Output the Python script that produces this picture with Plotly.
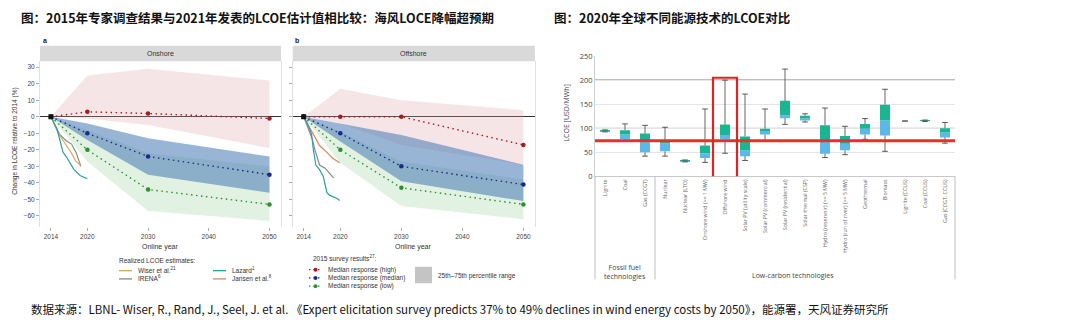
import plotly.graph_objects as go

W, H = 1080, 329
def px(x): return x / W
def py(y): return 1 - y / H

# ---------------- Data: 2015 expert survey vs realized LCOE ----------------
survey_years = [2014, 2020, 2030, 2050]
on_high = [0, 3, 2, -1]
on_med = [0, -10, -24, -35]
on_low = [0, -20, -44, -53]
on_high_up = [0, 25, 29, 22]
on_high_lo = [0, -1, -5, -19]
on_med_up = [0, -4, -13, -24]
on_med_lo = [0, -14, -35, -46]
on_low_up = [0, -8, -22, -30]
on_low_lo = [0, -27, -57, -63]

off_high = [0, 0, 0, -17]
off_med = [0, -10, -30, -41]
off_low = [0, -20, -43, -53]
off_high_up = [0, 17, 10, 4]
off_high_lo = [0, -4, -17, -29]
off_med_up = [0, -4, -11, -29]
off_med_lo = [0, -15, -39, -51]
off_low_up = [0, -9, -27, -38]
off_low_lo = [0, -28, -54, -62]

on_wiser_x = [2014, 2015.2, 2016.3, 2017.4, 2018.1, 2018.6, 2018.9]
on_wiser_y = [0, -10, -16, -22, -27, -28.5, -28]
on_irena_x = [2014, 2015.4, 2016.5, 2017.4, 2018.2, 2018.9]
on_irena_y = [0, -10.5, -14.5, -16.5, -22, -30]
on_lazard_x = [2014, 2015, 2015.5, 2016, 2016.6, 2017.1, 2017.8, 2018.8, 2020]
on_lazard_y = [0, -7.5, -14.5, -21.5, -24.5, -28, -32, -35.5, -37.5]

off_lazard_x = [2014, 2014.7, 2015.3, 2015.6, 2016, 2016.6, 2017.2, 2017.8, 2018.2, 2019.4, 2019.9]
off_lazard_y = [0, -4.7, -10.6, -20.3, -29.2, -32, -36, -45.8, -47.4, -49.3, -50.7]
off_irena_x = [2014, 2015.4, 2015.8, 2016.3, 2016.6, 2017.5, 2018, 2018.9]
off_irena_y = [0, -13.5, -19.4, -26.2, -29.2, -31.1, -33, -37]
off_jansen_x = [2014, 2015.5, 2016.6, 2018, 2018.8, 2019.9]
off_jansen_y = [0, -10.6, -17.4, -22.3, -25.2, -27.8]

year_ticks = [2014, 2020, 2030, 2040, 2050]
pct_ticks = [-60, -50, -40, -30, -20, -10, 0, 10, 20, 30]

# ---------------- Data: 2020 LCOE by technology ----------------
techs = ["Lignite", "Coal", "Gas (CCGT)", "Nuclear", "Nuclear (LTO)",
         "Onshore wind (>= 1 MW)", "Offshore wind", "Solar PV (utility scale)",
         "Solar PV (commercial)", "Solar PV (residential)", "Solar thermal (CSP)",
         "Hydro (reservoir) (>= 5 MW)", "Hydro (run of river) (>= 5 MW)",
         "Geothermal", "Biomass", "Lignite (CCUS)", "Coal (CCUS)", "Gas (CCGT, CCUS)"]
lcoe_low = [92.5, 74, 42, 42, 30, 29, 48, 33, 74, 108, 113, 39, 45, 77, 52, 115, 114, 69]
lcoe_q1 = [93, 77, 50, 52, 31, 38, 77, 42, 87, 121, 116, 47, 54, 87, 85, 115, 115, 81]
lcoe_med = [94.5, 87, 71, 69, 32, 48, 86, 54, 94, 127, 121, 74, 68, 99, 116, 115, 115.5, 91]
lcoe_q3 = [96, 96, 89, 75, 33, 64, 108, 83, 99, 157, 126, 106, 84, 109, 149, 115, 116, 100]
lcoe_high = [96.5, 109, 106, 102, 34, 140, 200, 171, 140, 223, 130, 142, 104, 120, 181, 115, 117, 112]
ref_lcoe = 74
lcoe_ticks = [0, 50, 100, 150, 200, 250]

LF = "Liberation Sans"
RF = "Open Sans"
CJK = "Noto Sans CJK SC"

RED, BLUE, GREEN = "#a01d22", "#1b2a8a", "#2f8f2f"
C_WISER, C_IRENA, C_LAZARD, C_JANSEN = "#d6a955", "#888888", "#2e9ea6", "#e0845a"

fig = go.Figure()

def band(xa, ya, up, lo, color):
    fig.add_trace(go.Scatter(x=survey_years + survey_years[::-1], y=up + lo[::-1],
                             fill="toself", fillcolor=color, line=dict(width=0),
                             mode="lines", hoverinfo="skip", xaxis=xa, yaxis=ya))

def series(xa, ya, vals, color):
    fig.add_trace(go.Scatter(x=survey_years, y=vals, mode="lines+markers",
                             line=dict(color=color, width=1.4, dash="1.5px,3.5px"),
                             marker=dict(color=color, size=4.5), xaxis=xa, yaxis=ya))

def realized(xa, ya, xs, ys, color):
    fig.add_trace(go.Scatter(x=xs, y=ys, mode="lines", line=dict(color=color, width=1.2),
                             xaxis=xa, yaxis=ya))

PINK_F = "rgba(222,160,170,0.28)"
GREEN_F = "rgba(150,210,150,0.28)"
BLUE_F = "rgba(70,120,180,0.55)"

for xa, ya, d in [("x", "y", dict(hu=on_high_up, hl=on_high_lo, mu=on_med_up, ml=on_med_lo,
                                   lu=on_low_up, ll=on_low_lo, h=on_high, m=on_med, l=on_low)),
                  ("x2", "y2", dict(hu=off_high_up, hl=off_high_lo, mu=off_med_up, ml=off_med_lo,
                                     lu=off_low_up, ll=off_low_lo, h=off_high, m=off_med, l=off_low))]:
    band(xa, ya, d["hu"], d["hl"], PINK_F)
    band(xa, ya, d["lu"], d["ll"], GREEN_F)
    band(xa, ya, d["mu"], d["ml"], BLUE_F)
    if xa == "x":
        realized(xa, ya, on_irena_x, on_irena_y, C_IRENA)
        realized(xa, ya, on_wiser_x, on_wiser_y, C_WISER)
        realized(xa, ya, on_lazard_x, on_lazard_y, C_LAZARD)
    else:
        realized(xa, ya, off_jansen_x, off_jansen_y, C_JANSEN)
        realized(xa, ya, off_irena_x, off_irena_y, C_IRENA)
        realized(xa, ya, off_lazard_x, off_lazard_y, C_LAZARD)
    series(xa, ya, d["h"], RED)
    series(xa, ya, d["m"], BLUE)
    series(xa, ya, d["l"], GREEN)
    fig.add_trace(go.Scatter(x=survey_years[:1], y=d["m"][:1], mode="markers",
                             marker=dict(color="#111", size=5, symbol="square"),
                             xaxis=xa, yaxis=ya))

# ---------------- Right chart: boxes ----------------
TEAL, LBLUE = "#1cb592", "#5cb8e8"
fig.add_trace(go.Bar(x=techs, y=[m - a for m, a in zip(lcoe_med, lcoe_q1)], base=lcoe_q1,
                     marker=dict(color=LBLUE, line=dict(width=0)), width=0.5,
                     xaxis="x3", yaxis="y3"))
fig.add_trace(go.Bar(x=techs, y=[b - m for m, b in zip(lcoe_med, lcoe_q3)], base=lcoe_med,
                     marker=dict(color=TEAL, line=dict(width=0)), width=0.5,
                     xaxis="x3", yaxis="y3"))
wx, wy = [], []
for c, lo, a, b, hi in zip(techs, lcoe_low, lcoe_q1, lcoe_q3, lcoe_high):
    wx += [c, c, None, c, c, None]
    wy += [b, hi, None, a, lo, None]
fig.add_trace(go.Scatter(x=wx, y=wy, mode="lines", line=dict(color="#666", width=1),
                         xaxis="x3", yaxis="y3"))
fig.add_trace(go.Scatter(x=techs + techs, y=lcoe_high + lcoe_low, mode="markers",
                         marker=dict(symbol="line-ew", size=4, line=dict(color="#555", width=1)),
                         xaxis="x3", yaxis="y3"))

shapes = []
annotations = []

def note(text, x, y, size, color="#333", family=LF, xanchor="left", angle=0):
    annotations.append(dict(text=text, x=px(x), y=py(y), xref="paper", yref="paper",
                            xanchor=xanchor, yanchor="middle", showarrow=False, textangle=angle,
                            font=dict(size=size, color=color, family=family)))

# panel headers
for x0, x1, txt, lab in [(40, 281, "Onshore", "a"), (292.7, 535, "Offshore", "b")]:
    shapes.append(dict(type="rect", xref="paper", yref="paper", x0=px(x0), x1=px(x1),
                       y0=py(58), y1=py(42), fillcolor="#d9d9d9", line=dict(width=0), layer="below"))
    note(txt, (x0 + x1) / 2, 50, 7, xanchor="center")
    note("<b>%s</b>" % lab, x0 + 0.5, 37, 7, color="#222")

# axis titles (left)
note("Change in LCOE relative to 2014 (%)", 15, 141, 6.5, xanchor="center", angle=-90)
for cx in (160, 413):
    note("Online year", cx, 249.5, 7, xanchor="center")

# legend (left)
note("Realized LCOE estimates:", 117, 263, 6.5)
for (lx, ly, col, txt) in [(119, 274, C_WISER, "Wiser et al.<sup>21</sup>"),
                           (119, 282.5, C_IRENA, "IRENA<sup>6</sup>"),
                           (213, 274, C_LAZARD, "Lazard<sup>1</sup>"),
                           (213, 282.5, C_JANSEN, "Jansen et al.<sup>8</sup>")]:
    shapes.append(dict(type="line", xref="paper", yref="paper", x0=px(lx), x1=px(lx + 13),
                       y0=py(ly), y1=py(ly), line=dict(color=col, width=1.3)))
    note(txt, lx + 17, ly - 0.5, 6.5)
note("2015 survey results<sup>27</sup>:", 311, 261.5, 6.5)
for ly, col, txt in [(273, RED, "Median response (high)"), (281.5, BLUE, "Median response (median)"),
                     (290, GREEN, "Median response (low)")]:
    shapes.append(dict(type="line", xref="paper", yref="paper", x0=px(309), x1=px(322),
                       y0=py(ly), y1=py(ly), line=dict(color=col, width=1.3, dash="1.5px,3px")))
    shapes.append(dict(type="circle", xref="paper", yref="paper", x0=px(313.5), x1=px(317.5),
                       y0=py(ly + 2), y1=py(ly - 2), fillcolor=col, line=dict(width=0)))
    note(txt, 326, ly, 6.5)
shapes.append(dict(type="rect", xref="paper", yref="paper", x0=px(415), x1=px(432),
                   y0=py(287), y1=py(270), fillcolor="#c4c4c4", line=dict(width=0)))
note("25th–75th percentile range", 436, 279, 6.5)

# right chart decorations
shapes.append(dict(type="line", xref="x3 domain", yref="y3", x0=0, x1=1, y0=200, y1=200,
                   line=dict(color="#a8a8a8", width=1.6), layer="below"))
shapes.append(dict(type="line", xref="x3 domain", yref="y3", x0=0, x1=1, y0=100, y1=100,
                   line=dict(color="#b0b0b0", width=1.1), layer="below"))
shapes.append(dict(type="line", xref="x3 domain", yref="y3", x0=0, x1=1, y0=ref_lcoe, y1=ref_lcoe,
                   line=dict(color="#e8302a", width=3), layer="above"))
shapes.append(dict(type="rect", xref="x3", yref="y3", x0=5.4, x1=6.6, y0=-3, y1=205,
                   line=dict(color="#e02424", width=2.2), layer="above"))
for xx in (595, 655, 955):
    shapes.append(dict(type="line", xref="paper", yref="paper", x0=px(xx), x1=px(xx),
                       y0=py(176.7), y1=py(283), line=dict(color="#bdbdbd", width=1)))
note("Fossil fuel<br>technologies", 625, 275, 7, color="#444", family=RF, xanchor="center")
note("Low-carbon technologies", 793, 279, 7, color="#444", family=RF, xanchor="center")
note("LCOE [USD/MWh]", 567, 112, 7, color="#444", family=RF, xanchor="center", angle=-90)

# titles and source
note("<b>图：2015年专家调查结果与2021年发表的LCOE估计值相比较：海风LOCE降幅超预期</b>",
     19, 13, 12.5, color="#111", family=CJK)
note("<b>图：2020年全球不同能源技术的LCOE对比</b>", 552, 13, 12.5, color="#111", family=CJK)
note("数据来源：LBNL- Wiser, R., Rand, J., Seel, J. et al. 《Expert elicitation survey predicts 37% to 49% declines in wind energy costs by 2050》，能源署，天风证券研究所",
     29, 314, 11.5, color="#111", family=CJK)

ymin, ymax = -66.7, 33.6
xr = [2012.2, 2051.9]
common_x = dict(range=xr, tickvals=year_ticks, ticks="outside", ticklen=3, tickcolor="#aaa",
                tickfont=dict(size=6.5, color="#444", family=LF), showgrid=False, zeroline=False,
                showline=False)
common_y = dict(range=[ymin, ymax], tickvals=pct_ticks, ticks="outside", ticklen=3, tickcolor="#aaa",
                showgrid=False, zeroline=True, zerolinecolor="#333", zerolinewidth=1.1,
                showline=True, linecolor="#e0e0e0", linewidth=1, mirror=True)

fig.update_layout(
    width=W, height=H, margin=dict(l=0, r=0, t=0, b=0),
    paper_bgcolor="white", plot_bgcolor="white", showlegend=False, barmode="overlay",
    xaxis=dict(domain=[px(40), px(281)], anchor="y", **common_x),
    yaxis=dict(domain=[py(229), py(58)], anchor="x",
               tickfont=dict(size=6.5, color="#444", family=LF), **common_y),
    xaxis2=dict(domain=[px(292.7), px(535)], anchor="y2", **common_x),
    yaxis2=dict(domain=[py(229), py(58)], anchor="x2", showticklabels=False, **common_y),
    xaxis3=dict(domain=[px(595), px(955)], anchor="y3", type="category", categoryorder="array",
                categoryarray=techs, range=[-0.5, len(techs) - 0.5], tickangle=-90, ticks="",
                tickfont=dict(size=5.3, color="#666", family=RF), showline=True, linecolor="#c8c8c8",
                showgrid=False, zeroline=False),
    yaxis3=dict(domain=[py(176.7), py(52.7)], anchor="x3", range=[0, 250], tickvals=lcoe_ticks,
                showgrid=True, gridcolor="#e4e4e4", gridwidth=1, zeroline=False, showline=True,
                linecolor="#d0d0d0", ticks="", tickfont=dict(size=7.5, color="#444", family=RF)),
    shapes=shapes, annotations=annotations,
)

fig.write_html("out.html")
